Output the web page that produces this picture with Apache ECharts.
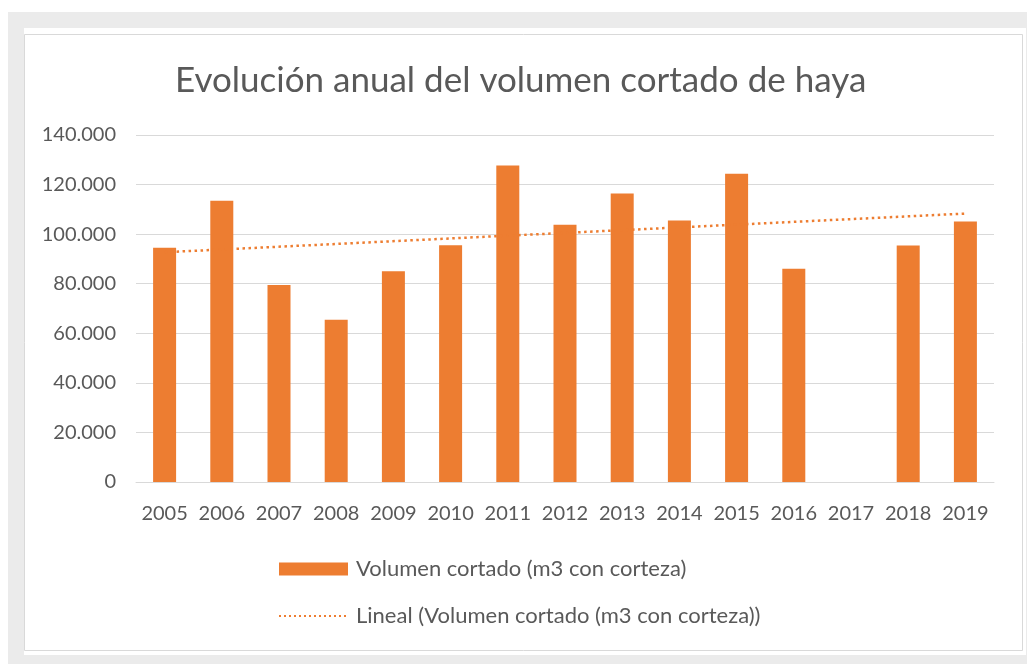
<!DOCTYPE html>
<html>
<head>
<meta charset="utf-8">
<script src="https://cdn.jsdelivr.net/npm/echarts@6/dist/echarts.min.js"></script>
<style>
html,body{margin:0;padding:0;background:#fff;}
#c{width:1027px;height:664px;}
</style>
</head>
<body>
<div id="c"></div>
<script>
const years = ['2005','2006','2007','2008','2009','2010','2011','2012','2013','2014','2015','2016','2017','2018','2019'];
const volumen = [94500, 113500, 79500, 65500, 85000, 95500, 127700, 103800, 116400, 105500, 124400, 86000, null, 95400, 105100];
const trendStart = 92700;
const trendEnd = 108300;
const yTicks = [0, 20000, 40000, 60000, 80000, 100000, 120000, 140000];
const titleText = 'Evolución anual del volumen cortado de haya';
const barName = 'Volumen cortado (m3 con corteza)';
const trendName = 'Lineal (Volumen cortado (m3 con corteza))';

const trend = years.map((y, i) => i === 0 ? trendStart : (i === years.length - 1 ? trendEnd : null));

const FONT = 'Lato';
const TXT = '#595959';
const chart = echarts.init(document.getElementById('c'));
chart.setOption({
  animation: false,
  backgroundColor: '#ffffff',
  graphic: [
    {type: 'rect', z: -10, shape: {x: 8, y: 12, width: 1019, height: 652}, style: {fill: '#ebebeb'}, silent: true},
    {type: 'rect', z: -9, shape: {x: 24, y: 28, width: 1002, height: 627}, style: {fill: '#ffffff'}, silent: true},
    {type: 'rect', z: -8, shape: {x: 24.5, y: 34.5, width: 998, height: 616}, style: {fill: 'none', stroke: '#d9d9d9', lineWidth: 1}, silent: true}
  ],
  title: {
    text: titleText,
    left: 170,
    top: 58,
    textStyle: {fontFamily: FONT, fontSize: 35, fontWeight: 'normal', color: TXT}
  },
  grid: {left: 136, right: 33, top: 135, bottom: 182, containLabel: false},
  legend: {
    orient: 'vertical',
    left: 273,
    top: 553,
    itemWidth: 69,
    itemHeight: 13,
    itemGap: 25,
    textStyle: {fontFamily: FONT, fontSize: 22, color: TXT, padding: [0, 0, 0, 3]},
    data: [
      {name: barName, icon: 'rect'},
      {name: trendName, itemStyle: {color: 'rgba(0,0,0,0)', borderWidth: 0, opacity: 0},
       lineStyle: {color: '#ED7D31', width: 2, type: [2, 3], opacity: 1}}
    ]
  },
  xAxis: {
    type: 'category',
    data: years,
    axisLine: {show: true, lineStyle: {color: '#d9d9d9', width: 1}},
    axisTick: {show: false},
    axisLabel: {fontFamily: FONT, fontSize: 20, color: TXT, margin: 22, interval: 0}
  },
  yAxis: {
    type: 'value',
    min: yTicks[0],
    max: yTicks[yTicks.length - 1],
    interval: yTicks[1] - yTicks[0],
    axisLine: {show: false},
    axisTick: {show: false},
    splitLine: {lineStyle: {color: '#d9d9d9', width: 1}},
    axisLabel: {
      fontFamily: FONT, fontSize: 20, color: TXT, margin: 20,
      formatter: v => v === 0 ? '0' : v.toString().replace(/\B(?=(\d{3})+(?!\d))/g, '.')
    }
  },
  series: [
    {
      name: barName,
      type: 'bar',
      data: volumen,
      barWidth: 23,
      itemStyle: {color: '#ED7D31'}
    },
    {
      name: trendName,
      type: 'line',
      data: trend,
      connectNulls: true,
      symbol: 'none',
      z: 5,
      lineStyle: {color: '#ED7D31', width: 2.5, type: [2.5, 3.5]},
      itemStyle: {color: '#ED7D31'}
    }
  ]
});
</script>
</body>
</html>
